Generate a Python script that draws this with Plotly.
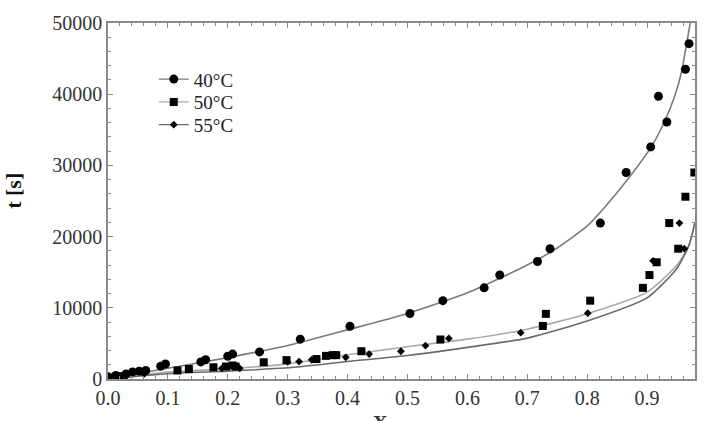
import plotly.graph_objects as go

# ---- data ----
x40 = [0.0, 0.013, 0.030, 0.041, 0.052, 0.063, 0.088, 0.096, 0.155, 0.163, 0.200, 0.208,
       0.253, 0.321, 0.404, 0.504, 0.559, 0.628, 0.654, 0.717, 0.738, 0.822, 0.865,
       0.906, 0.919, 0.933, 0.964, 0.970]
y40 = [300, 500, 700, 1000, 1100, 1200, 1800, 2100, 2400, 2700, 3200, 3500,
       3800, 5600, 7400, 9200, 11000, 12800, 14600, 16500, 18300, 21900, 29000,
       32600, 39700, 36100, 43500, 47100]

x50 = [0.0, 0.020, 0.116, 0.135, 0.176, 0.197, 0.208, 0.213, 0.260, 0.298, 0.348,
       0.364, 0.375, 0.381, 0.423, 0.555, 0.726, 0.731, 0.805, 0.893, 0.904, 0.916,
       0.937, 0.952, 0.964, 0.979]
y50 = [200, 400, 1200, 1400, 1650, 1750, 1900, 1750, 2350, 2650, 2800,
       3250, 3350, 3350, 3900, 5550, 7450, 9150, 11000, 12800, 14600, 16400,
       21900, 18300, 25600, 29000]

x55 = [0.0, 0.030, 0.060, 0.190, 0.220, 0.300, 0.319, 0.340, 0.397, 0.436, 0.489,
       0.530, 0.569, 0.689, 0.801, 0.910, 0.954, 0.962]
y55 = [150, 400, 700, 1500, 1500, 2400, 2450, 2700, 3050, 3500, 3900,
       4700, 5700, 6500, 9250, 16600, 21900, 18300]

# fitted curves
cx40 = [0, 0.1, 0.2, 0.3, 0.4, 0.5, 0.6, 0.7, 0.75, 0.8, 0.83, 0.87, 0.907, 0.93, 0.946,
        0.958, 0.966, 0.972, 0.976]
cy40 = [0, 1500, 3000, 4700, 6900, 9200, 12100, 16000, 18400, 21500, 24200, 28300, 32600,
        36300, 39700, 43300, 47100, 50000, 53000]
cx50 = [0, 0.1, 0.2, 0.3, 0.4, 0.5, 0.6, 0.7, 0.8, 0.9, 0.95, 0.97, 0.98]
cy50 = [0, 970, 1430, 2120, 3400, 4540, 5600, 7000, 9170, 12200, 16000, 18800, 22000]
cx55 = [0, 0.1, 0.2, 0.3, 0.4, 0.5, 0.6, 0.7, 0.8, 0.9, 0.95, 0.97, 0.98]
cy55 = [0, 740, 1110, 1570, 2450, 3290, 4440, 5740, 8150, 11400, 15560, 18800, 22000]

labels = ["40°C", "50°C", "55°C"]
xticks = [0, 0.1, 0.2, 0.3, 0.4, 0.5, 0.6, 0.7, 0.8, 0.9]
xticklabels = ["0.0", "0.1", "0.2", "0.3", "0.4", "0.5", "0.6", "0.7", "0.8", "0.9"]
yticks = [0, 10000, 20000, 30000, 40000, 50000]
yticklabels = ["0", "10000", "20000", "30000", "40000", "50000"]

FONT = "Liberation Serif"
curve_colors = ["#7a7a7a", "#a8a8a8", "#6a6a6a"]
symbols = ["circle", "square", "diamond"]
sizes = [9, 8, 6]

fig = go.Figure()

curves = [(cx40, cy40), (cx50, cy50), (cx55, cy55)]
for (cx, cy), col in zip(curves, curve_colors):
    fig.add_trace(go.Scatter(x=cx, y=cy, mode="lines",
                             line=dict(color=col, width=1.6, shape="spline", smoothing=0.6),
                             showlegend=False, hoverinfo="skip"))

points = [(x40, y40), (x50, y50), (x55, y55)]
for (px, py), sym, sz in zip(points, symbols, sizes):
    fig.add_trace(go.Scatter(x=px, y=py, mode="markers", showlegend=False,
                             marker=dict(symbol=sym, size=sz, color="black")))

# legend entries (one legend each, so the spacing can match)
legend_names = ["legend", "legend2", "legend3"]
for lab, sym, sz, col, lg in zip(labels, symbols, sizes, curve_colors, legend_names):
    fig.add_trace(go.Scatter(x=[None], y=[None], mode="lines+markers", name=lab, legend=lg,
                             line=dict(color=col, width=1.4),
                             marker=dict(symbol=sym, size=sz, color="black")))

axis_common = dict(
    showline=True, linecolor="#8a8a8a", linewidth=1.5, mirror="ticks",
    ticks="inside", ticklen=5, tickcolor="#8a8a8a", tickwidth=1,
    showgrid=False, zeroline=False,
    tickfont=dict(family=FONT, size=20, color="#333333"),
)

fig.update_xaxes(range=[0, 0.98], tickvals=xticks, ticktext=xticklabels,
                 minor=dict(ticks="inside", ticklen=3, dtick=0.02, tickcolor="#8a8a8a"),
                 **axis_common)
fig.update_yaxes(range=[0, 50000], tickvals=yticks, ticktext=yticklabels,
                 minor=dict(ticks="inside", ticklen=3, dtick=2000, tickcolor="#8a8a8a"),
                 **axis_common)

leg_common = dict(x=0.078, xanchor="left", yanchor="middle",
                  bgcolor="rgba(0,0,0,0)", font=dict(family=FONT, size=19, color="#222222"),
                  itemwidth=30)

fig.update_layout(
    width=710, height=421,
    margin=dict(l=108, r=15, t=20, b=40),
    paper_bgcolor="white", plot_bgcolor="white",
    font=dict(family=FONT, color="#222222"),
    legend=dict(y=0.842, **leg_common),
    legend2=dict(y=0.778, **leg_common),
    legend3=dict(y=0.714, **leg_common),
    annotations=[
        dict(text="<b>t [s]</b>", textangle=-90, x=-0.161, y=0.53, xref="paper", yref="paper",
             xanchor="center", yanchor="middle", showarrow=False,
             font=dict(family=FONT, size=22, color="#111111")),
        dict(text="<b>X</b>", x=0.465, y=-0.088, xref="paper", yref="paper",
             xanchor="center", yanchor="top", showarrow=False,
             font=dict(family=FONT, size=20, color="#333333")),
    ],
)

fig.write_html("out.html")
